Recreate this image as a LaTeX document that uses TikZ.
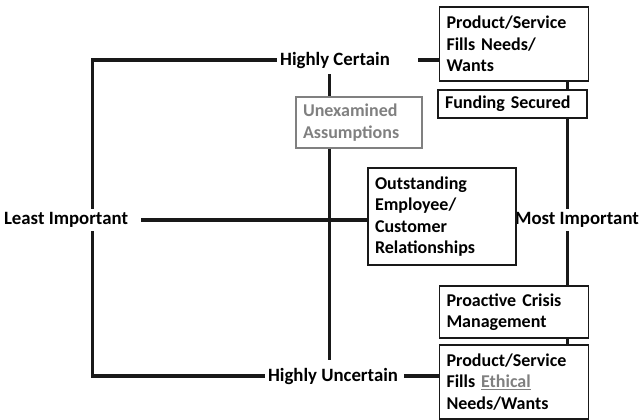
\documentclass[tikz,border=0pt]{standalone}
\usepackage{fontspec}
\setmainfont{Carlito}

\begin{document}
\begin{tikzpicture}[x=1pt, y=-1pt,
	axisline/.style={line width=3.5pt, draw=black!90},
	axislbl/.style={inner sep=3pt, font=\fontsize{18.8}{21}\selectfont\bfseries},
	factor/.style={draw=black!90, line width=1.4pt, align=left, inner xsep=7pt, inner ysep=2pt, font=\fontsize{18}{21.5}\selectfont\bfseries},
	hidden/.style={factor, draw=gray, text=gray}]
			\useasboundingbox (0,0) rectangle (643,420);
			% axis labels
			\node[axislbl](cert) at (335,60){Highly Certain};
			\node[axislbl](uncert) at (333,376){Highly Uncertain};
			\node[axislbl](least) at (66,220){Least Important};
			\node[axislbl](most) at (577,220){Most Important};
			% boxes
			\node[factor, text width=135pt, minimum height=74pt](prod) at (514,44){Product/Service\\Fills Needs/\\Wants};
			\node[factor, text width=135pt, minimum height=28pt](fund) at (512.5,104){Funding Secured};
			\node[hidden, text width=112pt, minimum height=51pt](unexam) at (359,122.5){Unexamined\\Assumptions};
			\node[factor, text width=134pt, minimum height=97pt](outst) at (442,216.5){Outstanding\\Employee/\\Customer\\Relationships};
			\node[factor, text width=135pt, minimum height=52pt](proact) at (514,312){Proactive Crisis\\Management};
			\node[factor, text width=135pt, minimum height=74pt](ethic) at (514,382){Product/Service\\Fills {\color{gray}\underline{Ethical}}\\Needs/Wants};
			% axis lines
			\coordinate (lx) at (92.5,0);
			\coordinate (cx) at (329.5,0);
			\coordinate (rx) at (567.5,0);
			\draw[axisline] (cert.west) -| (lx |- least.north);
			\draw[axisline] (uncert.west) -| (lx |- least.south);
			\draw[axisline, shorten <=25pt] (cert.east) -- (prod.west |- cert.east);
			\draw[axisline, shorten <=3pt] (uncert.east) -- (ethic.west |- uncert.east);
			\draw[axisline, shorten <=10pt] (least.east) -- (outst.west |- least.east);
			\draw[axisline, shorten <=3pt] (cx |- cert.south) -- (cx |- unexam.north);
			\draw[axisline, shorten >=5pt] (cx |- unexam.south) -- (cx |- uncert.north);
			\draw[axisline] (rx |- prod.south) -- (rx |- fund.north);
			\draw[axisline] (rx |- fund.south) -- (rx |- most.north);
			\draw[axisline] (rx |- most.south) -- (rx |- proact.north);
			\draw[axisline] (rx |- proact.south) -- (rx |- ethic.north);
			\end{tikzpicture}
\end{document}
